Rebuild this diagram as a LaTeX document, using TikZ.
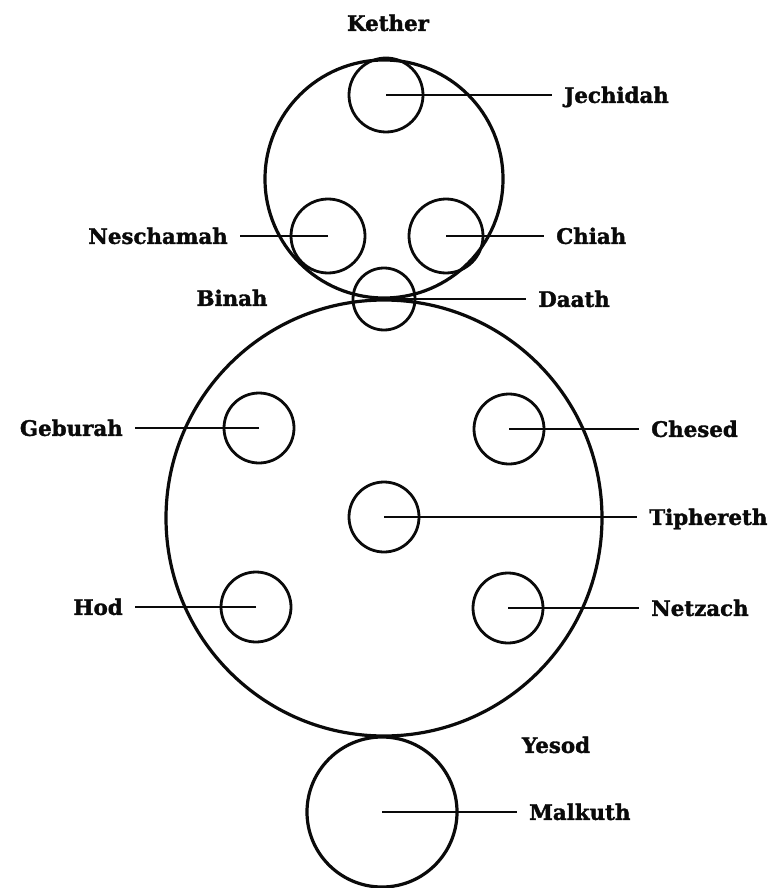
\documentclass[tikz,border=0pt]{standalone}
\usepackage{fontspec}
\setmainfont{DejaVu Serif}
\newfontfamily\heavy{DejaVu Serif Bold}[FakeBold=1.6]
\usepackage{tikz}
\usetikzlibrary{positioning}
\definecolor{ink}{RGB}{10,10,10}
\tikzset{
  orb/.style={circle,draw=ink,line width=2.1pt,inner sep=0pt},
  shell/.style={circle,draw=ink,line width=2.4pt,inner sep=0pt},
  lead/.style={draw=ink,line width=2.1pt,shorten >=9pt},
  lbl/.style={font=\heavy\fontsize{16}{19}\selectfont,text=ink,inner sep=0pt,
    text height=11.8pt,text depth=0pt},
}
\begin{document}
\begin{tikzpicture}[x=0.75pt,y=-0.75pt]
  \useasboundingbox (0,0) rectangle (780,888);
  % outer shells
  \node[shell,minimum size=178.5pt] (kether) at (384,179) {};
  \node[shell,minimum size=327pt] (body) at (384,518) {};
  \node[shell,minimum size=112.5pt] (malkuth) at (382,812) {};
  % small circles
  \node[orb,minimum size=55.5pt] (jechidah) at (386,95) {};
  \node[orb,minimum size=55.5pt] (neschamah) at (328,236) {};
  \node[orb,minimum size=55.5pt] (chiah) at (446,236) {};
  \node[orb,minimum size=46.5pt] (daath) at (384,299) {};
  \node[orb,minimum size=52.5pt] (geburah) at (259,428) {};
  \node[orb,minimum size=52.5pt] (chesed) at (509,429) {};
  \node[orb,minimum size=52.5pt] (tiphereth) at (384,517) {};
  \node[orb,minimum size=52.5pt] (hod) at (256,607) {};
  \node[orb,minimum size=52.5pt] (netzach) at (508,608) {};
  % labels
  \node[lbl] (tKether) at (388,23) {Kether};
  \node[lbl,anchor=west] (tJechidah) at (564,95) {Jechidah};
  \node[lbl,anchor=east] (tNeschamah) at (228,236) {Neschamah};
  \node[lbl,anchor=west] (tChiah) at (556,236) {Chiah};
  \node[lbl] (tBinah) at (232,298) {Binah};
  \node[lbl,anchor=west] (tDaath) at (538,299) {Daath};
  \node[lbl,anchor=east] (tGeburah) at (123,428) {Geburah};
  \node[lbl,anchor=west] (tChesed) at (651,429) {Chesed};
  \node[lbl,anchor=west] (tTiphereth) at (649,517) {Tiphereth};
  \node[lbl,anchor=east] (tHod) at (123,607) {Hod};
  \node[lbl,anchor=west] (tNetzach) at (651,608) {Netzach};
  \node[lbl] (tYesod) at (556,745) {Yesod};
  \node[lbl,anchor=west] (tMalkuth) at (529,812) {Malkuth};
  % leaders
  \draw[lead] (jechidah.center) -- (tJechidah.west);
  \draw[lead] (neschamah.center) -- (tNeschamah.east);
  \draw[lead] (chiah.center) -- (tChiah.west);
  \draw[lead] (daath.center) -- (tDaath.west);
  \draw[lead] (geburah.center) -- (tGeburah.east);
  \draw[lead] (chesed.center) -- (tChesed.west);
  \draw[lead] (tiphereth.center) -- (tTiphereth.west);
  \draw[lead] (hod.center) -- (tHod.east);
  \draw[lead] (netzach.center) -- (tNetzach.west);
  \draw[lead] (malkuth.center) -- (tMalkuth.west);
\end{tikzpicture}
\end{document}
